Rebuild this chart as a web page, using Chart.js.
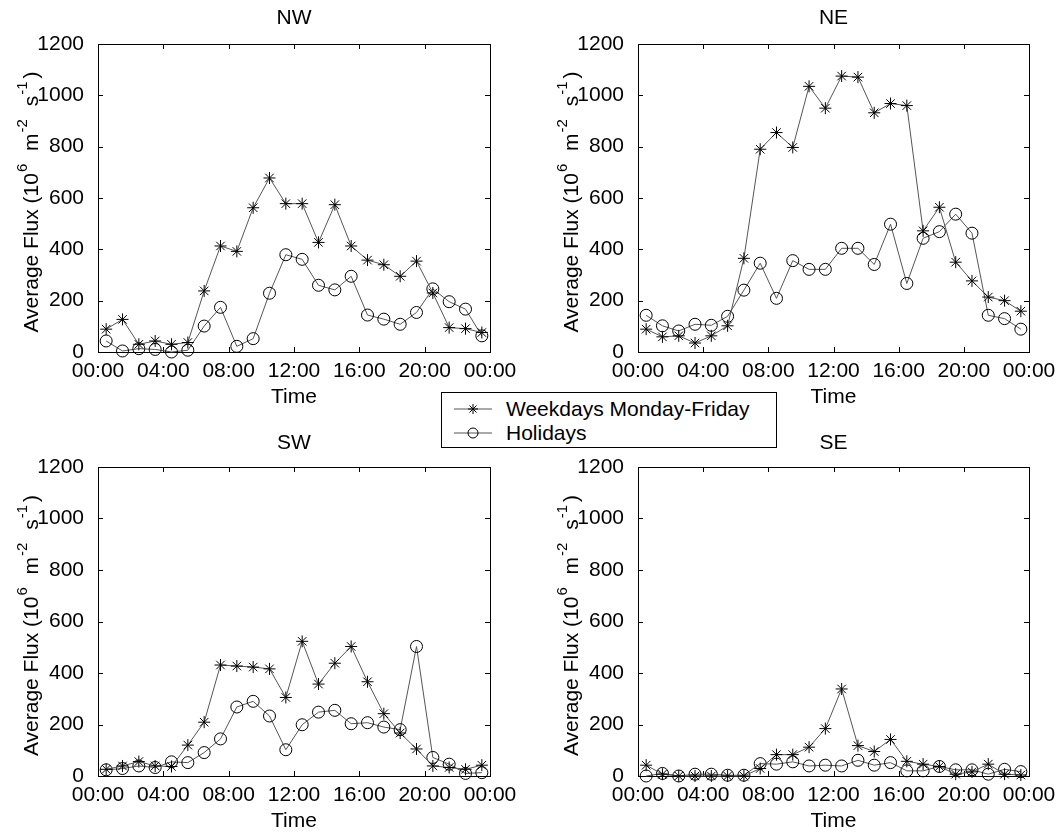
<!DOCTYPE html>
<html lang="en">
  <head>
    <meta charset="UTF-8" />
    <title>Average Flux</title>
    <script src="https://cdn.jsdelivr.net/npm/chart.js"></script>
    <style>
      body { margin: 0; background: #fff; overflow: hidden; font-family: "Liberation Sans", Arial, sans-serif; }
      #wrap { position: relative; width: 1058px; height: 832px; }
      canvas { position: absolute; }
      #legend {
        position: absolute; left: 441px; top: 392px; width: 334px; height: 54px;
        border: 1px solid #000; background: #fff; z-index: 5; font-size: 21px; color: #000;
      }
      #legend .row { position: absolute; left: 12px; height: 24px; line-height: 24px; white-space: nowrap; }
      #legend svg { position: absolute; left: 0; top: 2px; }
      #legend span { position: absolute; left: 52px; top: 0; }
    </style>
  </head>
  <body>
    <div id="wrap">
      <canvas id="nw" width="518" height="416" style="left:0;top:0"></canvas>
      <canvas id="ne" width="518" height="416" style="left:540px;top:0"></canvas>
      <canvas id="sw" width="518" height="416" style="left:0;top:416px"></canvas>
      <canvas id="se" width="518" height="416" style="left:540px;top:416px"></canvas>

      <div id="legend">
        <div class="row" style="top:4px">
          <svg width="40" height="20">
            <line x1="0" y1="10" x2="38" y2="10" stroke="#555" stroke-width="1" />
            <g stroke="#000" stroke-width="1">
              <line x1="19" y1="5" x2="19" y2="15" />
              <line x1="14" y1="10" x2="24" y2="10" />
              <line x1="15.5" y1="6.5" x2="22.5" y2="13.5" />
              <line x1="15.5" y1="13.5" x2="22.5" y2="6.5" />
            </g>
          </svg>
          <span>Weekdays Monday-Friday</span>
        </div>
        <div class="row" style="top:28px">
          <svg width="40" height="20">
            <line x1="0" y1="10" x2="38" y2="10" stroke="#555" stroke-width="1" />
            <circle cx="19" cy="10" r="5" fill="none" stroke="#000" stroke-width="1" />
          </svg>
          <span>Holidays</span>
        </div>
      </div>
    </div>

    <script>
      // hour of day at the middle of each hourly bin
      const hours = [0.5, 1.5, 2.5, 3.5, 4.5, 5.5, 6.5, 7.5, 8.5, 9.5, 10.5, 11.5,
                     12.5, 13.5, 14.5, 15.5, 16.5, 17.5, 18.5, 19.5, 20.5, 21.5, 22.5, 23.5];
      const seriesNames = ["Weekdays Monday-Friday", "Holidays"];
      const yTicks = [0, 200, 400, 600, 800, 1000, 1200];
      const xTicks = [0, 4, 8, 12, 16, 20, 24];

      const nwWeekdays = [89, 127, 30, 43, 30, 37, 238, 413, 392, 562, 678, 578, 578, 427, 574, 413, 358, 340, 295, 354, 230, 95, 91, 76];
      const nwHolidays = [43, 4, 13, 10, 0, 7, 101, 174, 22, 52, 229, 379, 361, 260, 242, 295, 144, 128, 108, 154, 246, 196, 167, 63];

      const neWeekdays = [89, 59, 63, 35, 63, 102, 365, 790, 855, 797, 1035, 950, 1075, 1071, 932, 968, 960, 472, 564, 350, 277, 214, 200, 159];
      const neHolidays = [143, 102, 82, 108, 104, 139, 241, 346, 209, 356, 322, 322, 404, 404, 341, 498, 267, 443, 469, 537, 463, 143, 130, 89];

      const swWeekdays = [26, 39, 56, 39, 37, 120, 209, 431, 427, 423, 416, 305, 523, 357, 438, 503, 366, 242, 167, 105, 39, 33, 26, 42];
      const swHolidays = [24, 29, 39, 33, 55, 52, 91, 144, 268, 290, 233, 102, 199, 248, 255, 203, 207, 190, 180, 503, 72, 46, 10, 13];

      const seWeekdays = [42, 7, 0, 0, 0, 0, 0, 29, 83, 83, 112, 184, 338, 118, 95, 142, 57, 46, 37, 7, 16, 46, 7, 4];
      const seHolidays = [0, 10, 0, 7, 7, 3, 3, 48, 46, 55, 39, 42, 39, 61, 42, 52, 20, 20, 37, 24, 24, 7, 26, 17];

      const FONT = "'Liberation Sans', Arial, sans-serif";

      // box round the plot area with short inward ticks on all four sides
      const boxPlugin = {
        id: "box",
        beforeDatasetsDraw(chart) {
          const { ctx, chartArea: a, scales } = chart;
          ctx.save();
          ctx.strokeStyle = "#000";
          ctx.lineWidth = 1;
          ctx.strokeRect(Math.round(a.left) + 0.5, Math.round(a.top) + 0.5,
                         Math.round(a.right - a.left), Math.round(a.bottom - a.top));
          const len = 5;
          ctx.beginPath();
          scales.x.ticks.forEach((t) => {
            const px = Math.round(scales.x.getPixelForValue(t.value)) + 0.5;
            ctx.moveTo(px, a.bottom); ctx.lineTo(px, a.bottom - len);
            ctx.moveTo(px, a.top); ctx.lineTo(px, a.top + len);
          });
          scales.y.ticks.forEach((t) => {
            const py = Math.round(scales.y.getPixelForValue(t.value)) + 0.5;
            ctx.moveTo(a.left, py); ctx.lineTo(a.left + len, py);
            ctx.moveTo(a.right, py); ctx.lineTo(a.right - len, py);
          });
          ctx.stroke();
          ctx.restore();
        },
      };

      // panel title centred over the plot area, and the y axis title with superscripts
      const textPlugin = {
        id: "texts",
        afterDraw(chart, args, opts) {
          const { ctx, chartArea: a } = chart;
          ctx.save();
          ctx.fillStyle = "#000";
          ctx.font = "21px " + FONT;
          ctx.textAlign = "center";
          ctx.textBaseline = "middle";
          ctx.fillText(opts.title, (a.left + a.right) / 2, opts.titleY);

          // [text, superscript?, extra gap before it]
          const parts = [
            ["Average Flux (10", false, 0], ["6", true, 1], [" m", false, 7], ["-2", true, 1],
            [" s", false, 7], ["-1", true, 1], [")", false, 3],
          ];
          const big = "21px " + FONT, small = "15px " + FONT;
          let total = 0;
          parts.forEach(([s, sup, g]) => {
            ctx.font = sup ? small : big;
            total += ctx.measureText(s).width + g;
          });
          ctx.translate(38, (a.top + a.bottom) / 2 + 4);
          ctx.rotate(-Math.PI / 2);
          ctx.textAlign = "left";
          ctx.textBaseline = "alphabetic";
          let x = -total / 2;
          parts.forEach(([s, sup, g]) => {
            ctx.font = sup ? small : big;
            x += g;
            ctx.fillText(s, x, sup ? -11 : 0);
            x += ctx.measureText(s).width;
          });
          ctx.restore();
        },
      };

      const panels = [
        { id: "nw", title: "NW", wk: nwWeekdays, hol: nwHolidays, plotTop: 44, plotBottom: 352, titleY: 18, right: 28 },
        { id: "ne", title: "NE", wk: neWeekdays, hol: neHolidays, plotTop: 44, plotBottom: 352, titleY: 18, right: 29 },
        { id: "sw", title: "SW", wk: swWeekdays, hol: swHolidays, plotTop: 51, plotBottom: 360, titleY: 27, right: 28 },
        { id: "se", title: "SE", wk: seWeekdays, hol: seHolidays, plotTop: 51, plotBottom: 360, titleY: 27, right: 29 },
      ];

      panels.forEach((p) => {
        const canvas = document.getElementById(p.id);
        const H = canvas.height;
        const xAxisH = H - p.plotBottom;
        const timeCenter = p.plotBottom + 45; // "Time" label centre

        const seriesStyle = {
          borderColor: "#555",
          borderWidth: 1,
          pointRadius: 6,
          pointBorderColor: "#000",
          pointBorderWidth: 1,
          pointBackgroundColor: "rgba(0,0,0,0)",
          tension: 0,
          clip: false,
        };

        new Chart(canvas, {
          type: "line",
          data: {
            datasets: [
              Object.assign({}, seriesStyle, {
                label: seriesNames[0],
                data: hours.map((h, i) => ({ x: h, y: p.wk[i] })),
                pointStyle: "star",
              }),
              Object.assign({}, seriesStyle, {
                label: seriesNames[1],
                data: hours.map((h, i) => ({ x: h, y: p.hol[i] })),
                pointStyle: "circle",
              }),
            ],
          },
          options: {
            responsive: false,
            animation: false,
            layout: { padding: { left: 0, right: p.right, top: p.plotTop, bottom: 0 } },
            plugins: {
              legend: { display: false },
              tooltip: { enabled: false },
              texts: { title: p.title, titleY: p.titleY },
            },
            scales: {
              x: {
                type: "linear",
                min: 0,
                max: 24,
                afterFit: (s) => { s.height = xAxisH; },
                afterBuildTicks: (s) => { s.ticks = xTicks.map((v) => ({ value: v })); },
                grid: { display: false },
                border: { display: false },
                ticks: {
                  color: "#000",
                  padding: 1,
                  maxRotation: 0,
                  font: { family: FONT, size: 21, lineHeight: 1 },
                  callback: (v) => String(v % 24).padStart(2, "0") + ":00",
                },
                title: {
                  display: true,
                  text: "Time",
                  color: "#000",
                  font: { family: FONT, size: 21, lineHeight: 1 },
                  padding: { top: 0, bottom: H - timeCenter - 10.5 },
                },
              },
              y: {
                min: 0,
                max: 1200,
                afterFit: (s) => { s.width = 98; },
                afterBuildTicks: (s) => { s.ticks = yTicks.map((v) => ({ value: v })); },
                grid: { display: false },
                border: { display: false },
                ticks: {
                  color: "#000",
                  padding: 6,
                  font: { family: FONT, size: 21 },
                  callback: (v) => String(v),
                },
              },
            },
          },
          plugins: [boxPlugin, textPlugin],
        });
      });
    </script>
  </body>
</html>
